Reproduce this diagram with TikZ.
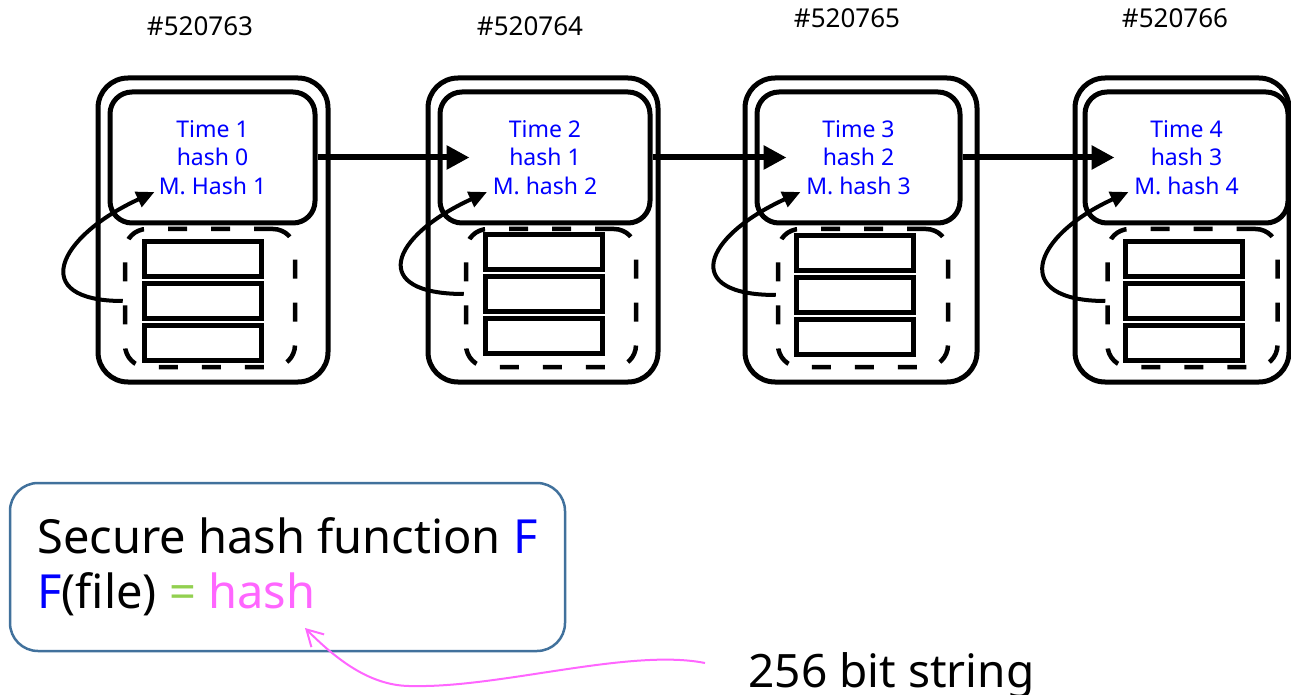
\documentclass[tikz,border=0pt]{standalone}
\usepackage{fontspec}
\setmainfont{Noto Sans}
\usetikzlibrary{arrows.meta}

\definecolor{hashblue}{RGB}{0,0,255}
\definecolor{hashgreen}{RGB}{146,208,80}
\definecolor{hashpink}{RGB}{255,102,255}
\definecolor{boxblue}{RGB}{65,113,156}

\begin{document}
\begin{tikzpicture}[x=1pt, y=-1pt, >={Triangle[length=23pt,width=23pt]},
	block/.style={draw, line width=5pt, rounded corners=30pt, inner sep=0pt, minimum height=304pt},
	head/.style={draw, line width=5pt, rounded corners=22pt, inner sep=0pt, minimum height=131pt,
		align=center, text=hashblue, font=\fontsize{23}{28.5}\selectfont},
	pool/.style={draw, line width=4.5pt, dash pattern=on 19pt off 24pt, rounded corners=22pt,
		inner sep=0pt, minimum width=170pt, minimum height=138pt},
	slot/.style={draw, line width=5pt, inner sep=0pt, minimum width=117pt, minimum height=35pt},
	tag/.style={inner sep=0pt, font=\fontsize{26}{30}\selectfont},
	fbox/.style={draw=boxblue, line width=2.5pt, rounded corners=28pt, inner sep=0pt,
		minimum width=555pt, minimum height=168pt, align=left, font=\fontsize{47}{55}\selectfont}]

	\useasboundingbox (0,0) rectangle (1291,695);

					% blocks
					\foreach \c/\w/\px/\rx/\ry [count=\i] in {213/230/210/202.5/259.5, 543/230/551/543.5/252.5, 861/232/863/855/253.5, 1182/214/1192.5/1183.5/259.5}
					{
						\node [block, minimum width=\w] (outer-\i) at (\c,230) {};
						\node [pool] (pool-\i) at (\px,298) {};
						\foreach \k in {1,2,3}
							\node [slot] (rec-\i-\k) at (\rx,{\ry+(\k-1)*41.5}) {};
					}

					% headers
					\foreach \hx/\hw/\t [count=\i] in {212.5/205/{Time 1\\hash 0\\M. Hash 1}, 545/210/{Time 2\\hash 1\\M. hash 2}, 858.5/203/{Time 3\\hash 2\\M. hash 3}, 1186.5/203/{Time 4\\hash 3\\M. hash 4}}
					{
						\node [head, minimum width=\hw] (head-\i) at (\hx,157.5) {\t};
						\coordinate (in-\i) at ([xshift=32]head-\i.west);
						\coordinate (mh-\i) at (\hx-58,192);
					}

				% block numbers
				\foreach \x/\y/\l [count=\i] in {200/26/520763, 530/26/520764, 847/18/520765, 1175/18/520766}
					\node [tag] (num-\i) at (\x,\y) {\#\l};

				% chain
				\foreach \i [count=\j from 2] in {1,2,3}
					\draw [->, line width=6pt] (head-\i) -- (in-\j);

				% loops from the pool to the header
				\foreach \i in {1,...,4}
					\draw [-{Triangle[length=18pt,width=16pt]}, line width=4pt] (rec-\i-2 -| pool-\i.west)
						.. controls +(-95,0) and +(-98,45) .. (mh-\i);

				% hash function
				\node [fbox] (func) at (287.5,567) {Secure hash function \textcolor{hashblue}{F}\\\textcolor{hashblue}{F}(file) \textcolor{hashgreen}{=} \textcolor{hashpink}{hash}};
				\node [anchor=base, inner sep=0pt, font=\fontsize{46}{55}\selectfont] (bits) at (891.5,687) {256 bit string};

				\coordinate (wave) at (705,663);
				\coordinate (hash-end) at (305,628);
				\draw [hashpink, line width=2pt, -{Straight Barb[length=16pt,width=18pt]}] (wave)
					.. controls (630,648) and (500,688) .. (413,686)
					.. controls (370,687) and (335,658) .. (hash-end);

			\end{tikzpicture}
\end{document}
